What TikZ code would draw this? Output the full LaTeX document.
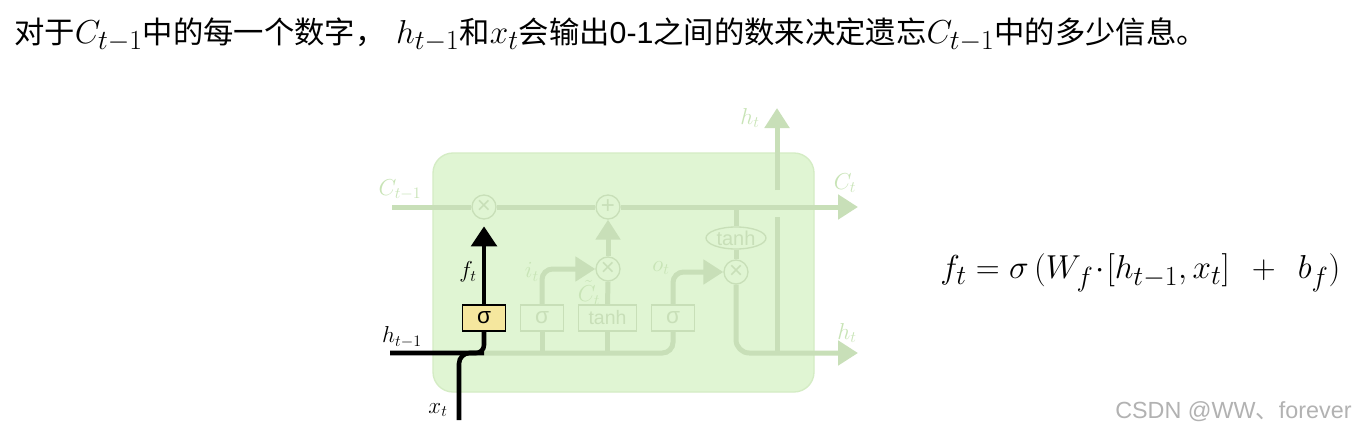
\documentclass[tikz,border=0pt]{standalone}
\usepackage{amsmath}
\usepackage{fontspec}
\setsansfont{Liberation Sans}
\newfontfamily\cjk{Noto Sans CJK SC}
\usetikzlibrary{arrows.meta,shapes.geometric,positioning}
\definecolor{cellfill}{RGB}{224,245,211}
\definecolor{cellborder}{RGB}{212,236,196}
\definecolor{gateline}{RGB}{200,223,184}
\definecolor{gatetext}{RGB}{200,228,182}
\definecolor{sigyellow}{RGB}{245,231,158}
\definecolor{wmgray}{RGB}{178,178,178}
\newcommand{\mth}[1]{{\fontsize{27.3}{30}\selectfont$#1$}}

\begin{document}
\begin{tikzpicture}[x=0.75pt,y=-0.75pt,>={Triangle[length=15pt,width=18pt]},
op/.style={circle,draw=gateline,fill=cellfill,line width=1pt,minimum size=18pt,inner sep=0pt,text=gateline,font=\sffamily\fontsize{18}{18}\selectfont},
gate/.style={rectangle,draw=gateline,line width=1.1pt,minimum height=19.5pt,minimum width=32.25pt,inner sep=0pt,text=gateline,font=\sffamily\fontsize{17}{17}\selectfont},
flow/.style={draw=gateline,line width=3.75pt},
hot/.style={draw=black,line width=3.4pt},
lbl/.style={text=gatetext,inner sep=0pt,font=\fontsize{18}{18}\selectfont},
blbl/.style={text=black,inner sep=0pt,font=\fontsize{18}{18}\selectfont}]
\useasboundingbox[fill=white] (0,0) rectangle (1371,435);
\node[anchor=base west,inner sep=0pt,font=\cjk\fontsize{22.75}{26}\selectfont] (title) at (14,43.5) {对于\mth{C_{t-1}}中的每一个数字，\hspace{8pt}\mth{h_{t-1}}和\mth{x_t}会输出{\sffamily 0-1}之间的数来决定遗忘\mth{C_{t-1}}中的多少信息。};
\draw[draw=cellborder,fill=cellfill,rounded corners=15pt,line width=1pt] (433,153) rectangle (814,392);
\node[op] (mulf) at (484,207) {×};
\node[op] (add) at (608,207) {+};
\node[op] (muli) at (608,269) {×};
\node[op] (mulo) at (736,272) {×};
\node[ellipse,draw=gateline,line width=1pt,minimum width=45pt,minimum height=16.5pt,inner sep=0pt,text=gateline,font=\sffamily\fontsize{15}{15}\selectfont] (tanhc) at (736,238) {tanh};
\node[gate,draw=black,fill=sigyellow,text=black,line width=1.2pt] (sigf) at (484,318) {σ};
\node[gate] (sigi) at (542,318) {σ};
\node[gate,minimum width=43.5pt,font=\sffamily\fontsize{14.6}{15}\selectfont] (tanhb) at (607.5,318) {tanh};
\node[gate] (sigo) at (673,318) {σ};
\coordinate (cin) at (392,207);
\coordinate (cout) at (858,207);
\coordinate (ctap) at (736,207);
\coordinate (jn) at (484,353);
\coordinate (hin) at (390,353);
\coordinate (xin) at (459,420);
\coordinate (hout) at (858,353);
\coordinate (hjn) at (777,353);
\coordinate (hmid) at (777,217);
\coordinate (hgap) at (777,190);
\coordinate (htop) at (777,108);
\draw[flow] (cin) -- (mulf) (mulf) -- (add);
\draw[flow,->] (add) -- (cout);
\draw[flow] (ctap) -- (tanhc.north) (tanhc.south) -- (mulo.north);
\draw[flow,->,rounded corners=10pt] (mulo.south) |- (hout);
\draw[flow] (hjn) -- (hmid);
\draw[flow,->] (hgap) -- (htop);
\draw[flow,rounded corners=8pt] (jn) -| (sigo.south);
\draw[flow] (sigi.south) -- (sigi.south |- jn) (tanhb.south) -- (tanhb.south |- jn);
\draw[flow,->,rounded corners=8pt] (sigi.north) |- (muli.west);
\draw[flow,->,rounded corners=8pt] (sigo.north) |- (mulo.west);
\draw[flow] (tanhb.north) -- (muli.south);
\draw[flow,->] (muli.north) -- (add.south);
\draw[hot,rounded corners=6pt] (hin) -- (jn) -- (sigf.south);
\draw[hot,rounded corners=8pt] (xin) |- (jn);
\draw[hot,->,>={Triangle[length=15pt,width=19pt]},shorten >=5pt] (sigf.north) -- (mulf.south);
\node[lbl] (lcprev) at (400,190) {$C_{t-1}$};
\node[lbl] (lcnext) at (845,183) {$C_t$};
\node[lbl] (lhup) at (750,118) {$h_t$};
\node[lbl] (lhout) at (847,333) {$h_t$};
\node[lbl] (lit) at (532,272) {$i_t$};
\node[lbl,font=\fontsize{17}{17}\selectfont] (lctil) at (589,293) {$\tilde{C}_t$};
\node[lbl] (lot) at (661,268) {$o_t$};
\node[blbl] (lft) at (468,272) {$f_t$};
\node[blbl] (lhprev) at (402,337) {$h_{t-1}$};
\node[blbl] (lxt) at (438,410) {$x_t$};
\node[anchor=west,inner sep=0pt,font=\fontsize{31.5}{34}\selectfont] (fgate) at (940,273) {$f_t=\sigma\,(W_f\!\cdot\![h_{t-1},x_t]\hspace{11pt}+\hspace{11pt}b_f)$};
\node[anchor=west,inner sep=0pt,text=wmgray,font=\sffamily\fontsize{17.5}{20}\selectfont] (mark) at (1115,412) {CSDN @WW{\cjk 、}forever};
\end{tikzpicture}
\end{document}
